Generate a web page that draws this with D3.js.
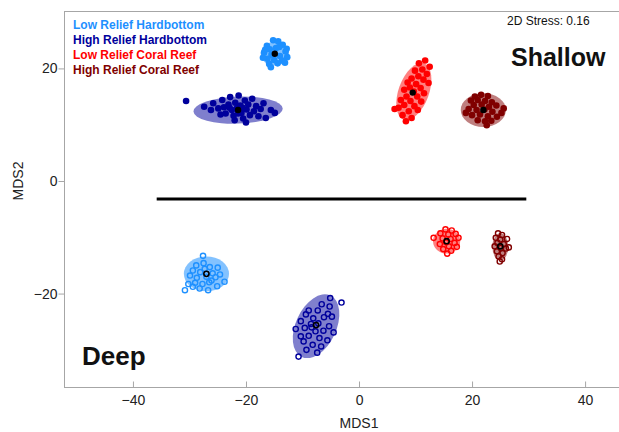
<!DOCTYPE html>
<html>
<head>
<meta charset="utf-8">
<script src="https://d3js.org/d3.v7.min.js"></script>
<style>
  body { margin: 0; background: #fff; }
  svg { font-family: "Liberation Sans", Arial, sans-serif; }
</style>
</head>
<body>
<div id="container"></div>
<script>
// ---- data ----
let groups = ["Low Relief Hardbottom", "High Relief Hardbottom", "Low Relief Coral Reef", "High Relief Coral Reef"];
let groupColors = ["#1e90ff", "#00009c", "#ff0000", "#800000"];

let xTicks = [-40, -20, 0, 20, 40];
let yTicks = [-20, 0, 20];

// shallow samples (filled)
let lrhShallow = [[-15.2,25.0],[-14.3,24.8],[-16.3,24.0],[-13.5,24.2],[-15.8,23.4],[-14.7,23.6],[-13.0,23.0],[-16.8,22.8],[-15.5,22.4],[-14.0,22.2],[-12.7,22.0],[-16.2,21.7],[-15.0,21.5],[-13.6,21.4],[-17.0,21.9],[-14.4,20.9],[-15.9,20.8],[-13.1,21.0],[-16.6,23.3],[-15.6,20.2],[-14.1,23.8],[-12.8,23.5]];
let hrhShallow = [[-30.6,14.2],[-27.4,13.2],[-26.2,12.6],[-25.8,13.8],[-24.9,12.9],[-24.2,14.4],[-23.9,13.1],[-23.6,12.0],[-23.1,13.6],[-22.8,14.9],[-22.5,12.6],[-22.2,11.6],[-21.9,13.9],[-21.6,12.9],[-21.3,15.2],[-21.0,13.4],[-20.8,12.1],[-20.5,11.1],[-20.2,14.3],[-19.9,12.7],[-19.6,13.6],[-19.3,11.7],[-18.9,14.6],[-18.6,12.4],[-18.2,13.3],[-17.8,11.5],[-17.4,12.8],[-16.9,13.8],[-16.5,11.2],[-15.6,12.6],[-14.9,12.1],[-22.0,10.8],[-20.0,10.4],[-24.5,11.8],[-21.4,12.0],[-22.9,13.0],[-20.6,13.0]];
let lrcrShallow = [[11.7,21.4],[10.6,20.9],[12.5,20.3],[11.2,19.8],[9.9,19.6],[12.0,19.0],[10.5,18.6],[9.3,18.2],[11.4,18.0],[8.6,17.5],[10.1,17.2],[12.3,17.4],[9.0,16.6],[10.9,16.5],[8.0,16.2],[9.7,15.9],[11.5,15.6],[8.4,15.0],[10.3,15.0],[7.4,14.4],[9.1,14.2],[11.0,14.1],[8.0,13.5],[9.8,13.3],[7.0,13.0],[8.8,12.4],[10.4,12.6],[7.7,11.7],[9.3,11.2],[8.3,10.6],[6.3,12.8]];
let hrcrShallow = [[20.5,15.0],[21.6,15.3],[22.8,15.1],[19.8,14.3],[21.0,14.4],[22.3,14.2],[23.5,14.0],[20.3,13.5],[21.7,13.6],[23.0,13.2],[24.3,13.4],[19.4,12.8],[20.8,12.6],[22.2,12.7],[23.6,12.3],[25.2,12.1],[20.0,11.7],[21.4,11.8],[22.8,11.5],[24.4,11.4],[25.6,12.9],[21.0,10.8],[22.3,10.6],[23.4,10.7],[22.6,9.9],[18.9,12.1]];

// deep samples (open)
let lrhDeep = [[-27.6,-13.3],[-28.8,-15.0],[-27.5,-14.6],[-26.4,-15.3],[-25.0,-15.4],[-29.4,-15.9],[-28.1,-16.2],[-27.3,-15.6],[-25.9,-16.4],[-24.6,-16.6],[-29.9,-16.8],[-28.7,-17.2],[-27.0,-17.0],[-25.4,-17.1],[-23.8,-17.9],[-29.0,-18.1],[-27.7,-18.3],[-26.5,-18.0],[-25.1,-18.7],[-30.2,-18.3],[-28.2,-19.1],[-26.7,-19.4],[-30.8,-19.4],[-29.4,-18.8],[-26.1,-17.7]];
let hrhDeep = [[-5.1,-20.8],[-3.1,-21.6],[-6.6,-21.9],[-5.2,-22.3],[-8.9,-23.0],[-7.3,-23.0],[-5.5,-23.6],[-9.4,-23.7],[-8.1,-24.4],[-6.2,-24.2],[-4.8,-24.1],[-10.3,-24.9],[-8.5,-25.4],[-7.2,-25.3],[-5.3,-25.8],[-11.2,-26.3],[-9.6,-26.1],[-7.7,-26.7],[-6.3,-26.6],[-4.5,-26.9],[-10.3,-27.6],[-8.9,-27.5],[-7.0,-27.9],[-5.6,-28.3],[-9.8,-28.5],[-8.2,-29.1],[-6.7,-29.4],[-9.3,-30.0],[-10.7,-31.2],[-7.4,-30.5],[-8.4,-26.0]];
let lrcrDeep = [[15.3,-8.6],[16.4,-8.8],[14.4,-9.3],[15.8,-9.5],[17.1,-9.4],[13.2,-10.1],[14.8,-10.2],[16.2,-10.3],[17.6,-10.1],[15.4,-10.9],[16.9,-11.0],[14.3,-11.2],[15.9,-11.6],[17.3,-11.7],[14.9,-12.1],[16.3,-12.4],[15.6,-12.9]];
let hrcrDeep = [[24.6,-9.3],[25.3,-9.6],[24.2,-10.1],[25.0,-10.4],[26.2,-10.3],[24.5,-11.0],[25.6,-11.2],[24.0,-11.6],[25.1,-11.9],[26.0,-12.0],[24.4,-12.5],[25.4,-12.8],[24.7,-13.4],[25.3,-13.9],[24.9,-14.3],[26.5,-11.8]];

// group centroids
let centroidsShallow = [[-14.9,22.6],[-21.4,12.6],[9.5,15.7],[22.0,12.6]];
let centroidsDeep = [[-27.0,-16.5],[-7.6,-25.6],[15.5,-10.7],[25.0,-11.6]];

// ellipses: [cx, cy, rx, ry, angle]
let ellipsesShallow = [[-14.9,22.6,2.5,2.1,0],[-21.4,12.6,7.9,2.4,-2],[9.7,15.9,5.3,2.7,-70],[22.0,12.6,4.0,3.0,0]];
let ellipsesDeep = [[-27.0,-16.5,4.0,3.1,0],[-7.6,-25.8,6.0,3.6,-65],[15.5,-10.7,2.4,2.2,0],[25.0,-11.7,1.4,2.4,0]];

// horizontal divider
let divider = [[-35.8,-3.2],[29.6,-3.2]];

let shallowSets = [lrhShallow, hrhShallow, lrcrShallow, hrcrShallow];
let deepSets = [lrhDeep, hrhDeep, lrcrDeep, hrcrDeep];

// ---- chart ----
let w = 619;
let h = 432;
let padLeft = 64, padTop = 11, padRight = 619, padBottom = 387;

let viz = d3.select("#container")
  .append("svg")
    .attr("width", w)
    .attr("height", h);

let xScale = d3.scaleLinear().domain([-52.2, 46.0]).range([padLeft, padRight]);
let yScale = d3.scaleLinear().domain([30.2, -36.6]).range([padTop, padBottom]);

// frame
viz.append("line")
  .attr("x1", padLeft).attr("x2", padRight).attr("y1", padTop + 0.5).attr("y2", padTop + 0.5)
  .attr("stroke", "#a6a6a6");

let xAxis = d3.axisBottom(xScale).tickValues(xTicks).tickSize(5).tickSizeOuter(0);
let xg = viz.append("g")
  .attr("transform", "translate(0," + (padBottom + 0.5) + ")")
  .call(xAxis);
xg.select(".domain").attr("d", "M" + padLeft + ",0H" + padRight).attr("stroke", "#a6a6a6");
xg.selectAll(".tick line").attr("stroke", "#a6a6a6").attr("y2", -6);
xg.selectAll(".tick text").attr("font-size", 14).attr("fill", "#222").attr("y", 8).attr("dy", "0.71em")
  .attr("font-family", "Liberation Sans, Arial, sans-serif");

let yAxis = d3.axisLeft(yScale).tickValues(yTicks).tickSize(6).tickSizeOuter(0);
let yg = viz.append("g")
  .attr("transform", "translate(" + (padLeft + 0.5) + ",0)")
  .call(yAxis);
yg.select(".domain").attr("d", "M0," + padTop + "V" + padBottom).attr("stroke", "#a6a6a6");
yg.selectAll(".tick line").attr("stroke", "#a6a6a6");
yg.selectAll(".tick text").attr("font-size", 14).attr("fill", "#222").attr("x", -7)
  .attr("font-family", "Liberation Sans, Arial, sans-serif");

viz.append("text")
  .attr("x", xScale(0)).attr("y", 428)
  .attr("text-anchor", "middle").attr("font-size", 14).attr("fill", "#222")
  .text("MDS1");
viz.append("text")
  .attr("transform", "translate(23," + yScale(0) + ") rotate(-90)")
  .attr("text-anchor", "middle").attr("font-size", 14).attr("fill", "#222")
  .text("MDS2");

let ux = xScale(1) - xScale(0);
let uy = yScale(0) - yScale(1);

function drawEllipses(list){
  viz.append("g").selectAll("ellipse").data(list).enter()
    .append("ellipse")
      .attr("transform", function(d){ return "translate(" + xScale(d[0]) + "," + yScale(d[1]) + ") rotate(" + d[4] + ")"; })
      .attr("rx", function(d){ return d[2] * ux; })
      .attr("ry", function(d){ return d[3] * uy; })
      .attr("fill", function(d, i){ return groupColors[i]; })
      .attr("fill-opacity", function(d, i){ return i == 0 ? 0.55 : 0.5; });
}
drawEllipses(ellipsesShallow);
drawEllipses(ellipsesDeep);

// shallow points
shallowSets.forEach(function(set, i){
  viz.append("g").selectAll("circle").data(set).enter()
    .append("circle")
      .attr("cx", function(d){ return xScale(d[0]); })
      .attr("cy", function(d){ return yScale(d[1]); })
      .attr("r", 3.3)
      .attr("fill", groupColors[i]);
});

// deep points
deepSets.forEach(function(set, i){
  viz.append("g").selectAll("circle").data(set).enter()
    .append("circle")
      .attr("cx", function(d){ return xScale(d[0]); })
      .attr("cy", function(d){ return yScale(d[1]); })
      .attr("r", 2.6)
      .attr("fill", "none")
      .attr("stroke", groupColors[i])
      .attr("stroke-width", 1.4);
});

// centroids
viz.append("g").selectAll("circle").data(centroidsShallow).enter()
  .append("circle")
    .attr("cx", function(d){ return xScale(d[0]); })
    .attr("cy", function(d){ return yScale(d[1]); })
    .attr("r", 3.2)
    .attr("fill", "#000");
viz.append("g").selectAll("circle").data(centroidsDeep).enter()
  .append("circle")
    .attr("cx", function(d){ return xScale(d[0]); })
    .attr("cy", function(d){ return yScale(d[1]); })
    .attr("r", 2.6)
    .attr("fill", "none")
    .attr("stroke", "#000")
    .attr("stroke-width", 1.6);

// divider line
viz.append("path")
  .attr("d", d3.line().x(function(d){ return xScale(d[0]); }).y(function(d){ return yScale(d[1]); })(divider))
  .attr("stroke", "#000")
  .attr("stroke-width", 3)
  .attr("fill", "none");

// legend
viz.append("g").selectAll("text").data(groups).enter()
  .append("text")
    .attr("x", 73)
    .attr("y", function(d, i){ return 28.5 + i * 15; })
    .attr("font-size", 12)
    .attr("font-weight", "bold")
    .attr("fill", function(d, i){ return groupColors[i]; })
    .text(function(d){ return d; });

viz.append("text")
  .attr("x", 507).attr("y", 25)
  .attr("font-size", 12).attr("fill", "#111")
  .text("2D Stress: 0.16");

viz.append("text")
  .attr("x", 511).attr("y", 66)
  .attr("font-size", 25).attr("font-weight", "bold").attr("fill", "#111")
  .text("Shallow");

viz.append("text")
  .attr("x", 82).attr("y", 365)
  .attr("font-size", 26).attr("font-weight", "bold").attr("fill", "#111")
  .text("Deep");
</script>
</body>
</html>
